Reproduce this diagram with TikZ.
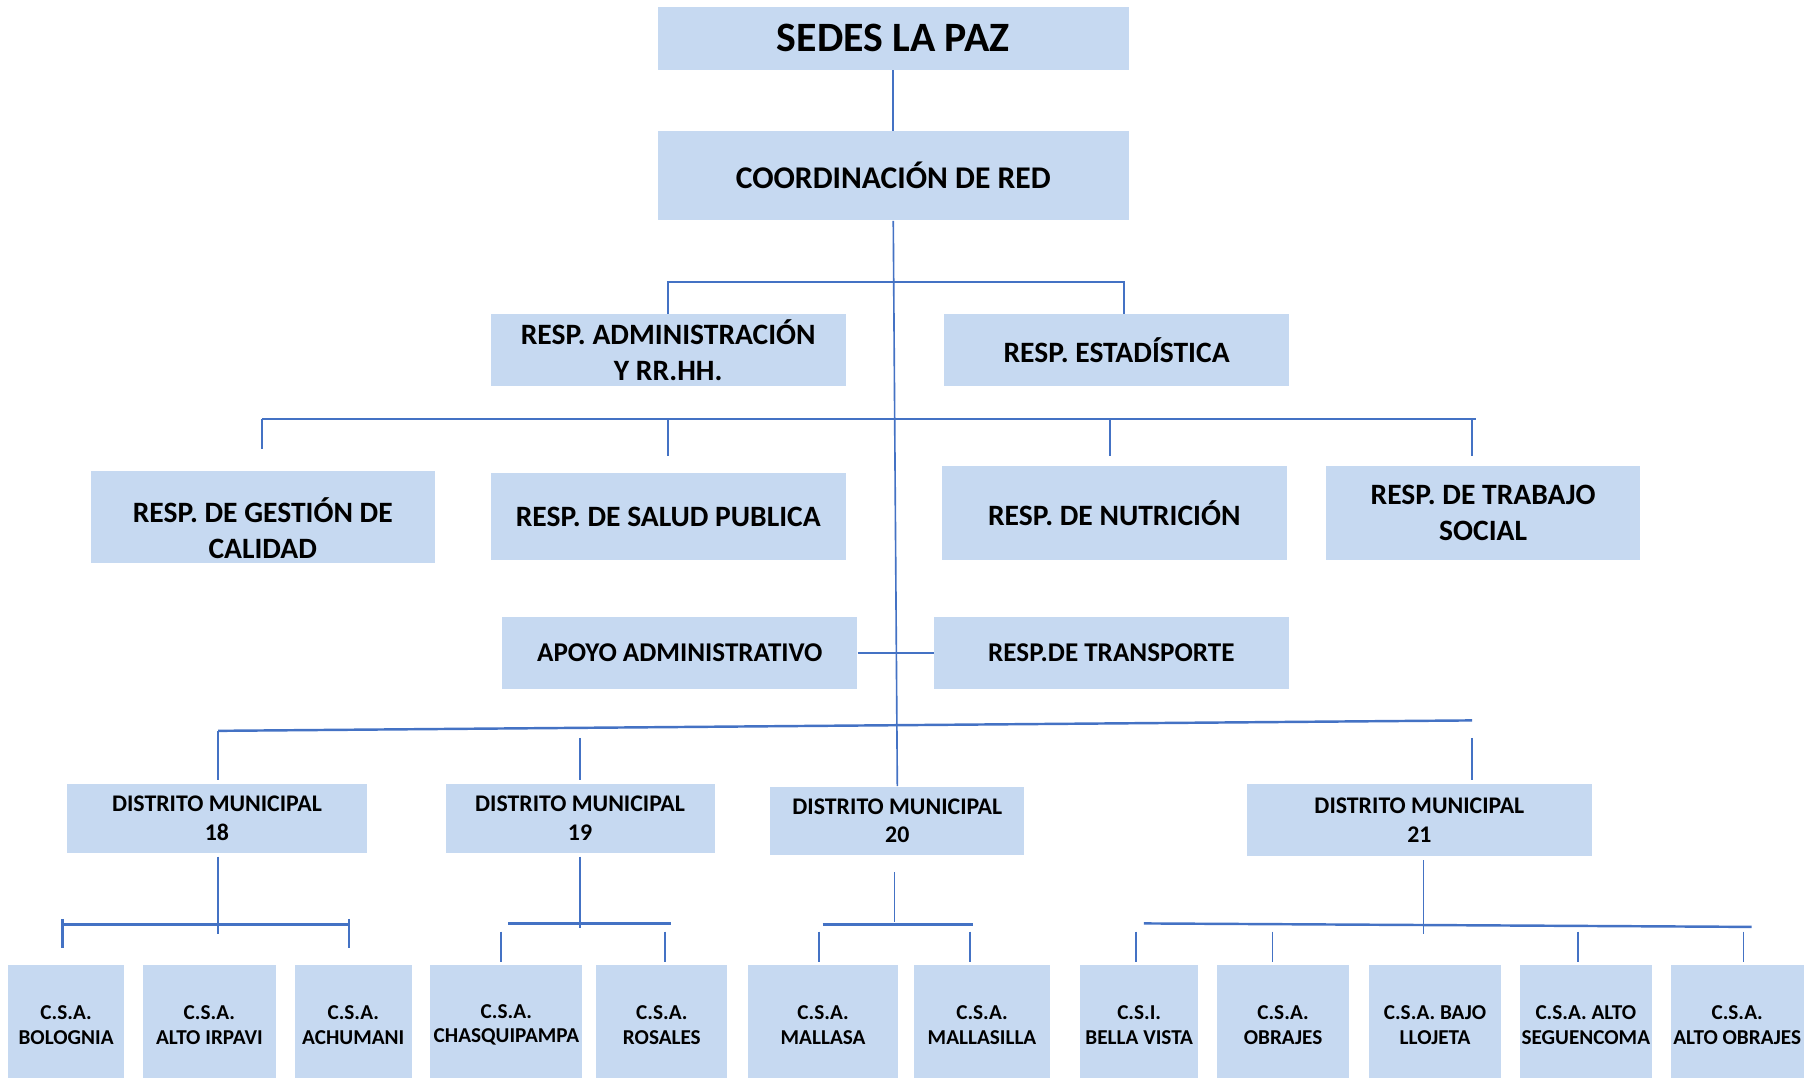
\documentclass[tikz,border=0pt]{standalone}
\usepackage{fontspec}
\setmainfont{Carlito}
\usepackage{tikz}
\definecolor{boxblue}{RGB}{198,217,241}
\definecolor{linkblue}{RGB}{68,114,196}

\begin{document}
\begin{tikzpicture}[x=0.02cm,y=-0.02cm]
\tikzstyle{box}=[fill=boxblue,align=center,inner sep=0pt];
\tikzstyle{toptxt}=[font=\fontsize{20.5}{24}\selectfont\bfseries];
\tikzstyle{coordtxt}=[font=\fontsize{15.5}{18.5}\selectfont\bfseries];
\tikzstyle{midtxt}=[font=\fontsize{14.5}{17.6}\selectfont\bfseries];
\tikzstyle{smalltxt}=[font=\fontsize{13.3}{16}\selectfont\bfseries];
\tikzstyle{dmtxt}=[font=\fontsize{11.7}{14.2}\selectfont\bfseries];
\tikzstyle{csa}=[box,font=\fontsize{10.4}{12.2}\selectfont\bfseries,minimum height=2.06cm];
\tikzstyle{conn}=[draw=linkblue,line width=0.8pt];
\tikzstyle{bus}=[draw=linkblue,line width=1.2pt];
\useasboundingbox (0,0) rectangle (1568,929);
% top levels
%   nodes
    \node[box,toptxt,minimum width=8.12cm,minimum height=1.08cm] (sedes) at (770,33) {SEDES LA PAZ};
    \node[box,coordtxt,minimum width=8.12cm,minimum height=1.54cm] (coord) at (770,151.5) {COORDINACIÓN DE RED};
    \node[box,midtxt,minimum width=6.12cm,minimum height=1.24cm] (admin) at (576,302) {RESP. ADMINISTRACIÓN\\Y RR.HH.};
    \node[box,midtxt,minimum width=5.94cm,minimum height=1.24cm] (estad) at (962.5,302) {RESP. ESTADÍSTICA};
    \node[box,minimum width=5.94cm,minimum height=1.58cm,
          label={[midtxt,align=center,yshift=-0.2cm]center:{RESP. DE GESTIÓN DE\\CALIDAD}}] (calidad) at (226.5,445.5) {};
    \node[box,midtxt,minimum width=6.12cm,minimum height=1.5cm] (salud) at (576,445.5) {RESP. DE SALUD PUBLICA};
    \node[box,midtxt,minimum width=5.94cm,minimum height=1.62cm] (nutri) at (960.5,442.5) {RESP. DE NUTRICIÓN};
    \node[box,midtxt,minimum width=5.42cm,minimum height=1.62cm] (social) at (1278.5,442.5) {RESP. DE TRABAJO\\SOCIAL};
    \node[box,smalltxt,minimum width=6.12cm,minimum height=1.24cm] (apoyo) at (586,563) {APOYO ADMINISTRATIVO};
    \node[box,smalltxt,minimum width=6.12cm,minimum height=1.24cm] (transp) at (958,563) {RESP.DE TRANSPORTE};
%   districts
    \node[box,dmtxt,minimum width=5.16cm,minimum height=1.18cm] (dm18) at (187,705.5) {DISTRITO MUNICIPAL\\18};
    \node[box,dmtxt,minimum width=4.64cm,minimum height=1.18cm] (dm19) at (500,705.5) {DISTRITO MUNICIPAL\\19};
    \node[box,dmtxt,minimum width=4.38cm,minimum height=1.18cm] (dm20) at (773.5,707.5) {DISTRITO MUNICIPAL\\20};
    \node[box,dmtxt,minimum width=5.94cm,minimum height=1.24cm] (dm21) at (1223.5,707) {DISTRITO MUNICIPAL\\21};
%   centres
    \node[csa,minimum width=2.00cm] (bolognia) at (57,883.5) {C.S.A.\\BOLOGNIA};
    \node[csa,minimum width=2.30cm] (irpavi) at (180.5,883.5) {C.S.A.\\ALTO IRPAVI};
    \node[csa,minimum width=2.02cm] (achumani) at (304.5,883.5) {C.S.A.\\ACHUMANI};
    \node[csa,minimum width=2.62cm] (chasqui) at (436.5,883.5) {C.S.A.\\CHASQUIPAMPA};
    \node[csa,minimum width=2.26cm] (rosales) at (570.5,883.5) {C.S.A.\\ROSALES};
    \node[csa,minimum width=2.58cm] (mallasa) at (709.5,883.5) {C.S.A.\\MALLASA};
    \node[csa,minimum width=2.34cm] (mallasilla) at (846.5,883.5) {C.S.A.\\MALLASILLA};
    \node[csa,minimum width=2.04cm] (bella) at (982,883.5) {C.S.I.\\BELLA VISTA};
    \node[csa,minimum width=2.28cm] (obrajes) at (1106,883.5) {C.S.A.\\OBRAJES};
    \node[csa,minimum width=2.28cm] (llojeta) at (1237,883.5) {C.S.A. BAJO\\LLOJETA};
    \node[csa,minimum width=2.28cm] (seguen) at (1367,883.5) {C.S.A. ALTO\\SEGUENCOMA};
    \node[csa,minimum width=2.30cm] (altoob) at (1497.5,883.5) {C.S.A.\\ALTO OBRAJES};
% edges
    \draw[conn] (sedes) -- (coord);
    \draw[conn] (coord.south) -- (dm20.north);
    % first bus
    \coordinate (b1l) at (576,243);
    \coordinate (b1r) at (969,243);
    \draw[bus] (admin.north) -- (b1l) -- (b1r) -- (b1r |- estad.north);
    % second bus
    \coordinate (b2l) at (226,361);
    \coordinate (b2r) at (1272,361);
    \coordinate (b2n) at (957,361);
    \coordinate (b2s) at (1269,361);
    \draw[bus] (b2l) -- (b2r);
    \draw[bus,shorten >=0.38cm] (b2l) -- (b2l |- calidad.north);
    \draw[bus,shorten >=0.3cm] (salud.north |- b2l) -- (salud.north);
    \draw[bus,shorten >=0.18cm] (b2n) -- (b2n |- nutri.north);
    \draw[bus,shorten >=0.18cm] (b2s) -- (b2s |- social.north);
    \draw[bus] (apoyo.east) -- (transp.west);
    % third bus
    \coordinate (b3l) at (188,630);
    \coordinate (b3r) at (1269,621);
    \coordinate (b3a) at (500,636);
    \coordinate (b3b) at (1269,636);
    \draw[bus] (b3l) -- (b3r);
    \draw[conn,shorten >=0.06cm] (b3l) -- (b3l |- dm18.north);
    \draw[conn,shorten >=0.06cm] (b3a) -- (dm19.north);
    \draw[conn,shorten >=0.06cm] (b3b) -- (b3b |- dm21.north);
    % district 18
    \coordinate (g18) at (188,805);
    \coordinate (g18l) at (54,797);
    \coordinate (g18r) at (301,797);
    \draw[conn,shorten <=0.06cm] (g18 |- dm18.south) -- (g18);
    \draw[bus] (g18l) -- (g18r);
    \draw[bus] (g18l) ++(0,-5) -- ++(0,25);
    \draw[bus] (g18r) ++(0,-5) -- ++(0,25);
    % district 19
    \coordinate (g19) at (500,800);
    \coordinate (g19l) at (438,796);
    \coordinate (g19r) at (578,796);
    \coordinate (g19a) at (432,803);
    \coordinate (g19b) at (573,803);
    \draw[conn,shorten <=0.06cm] (g19 |- dm19.south) -- (g19);
    \draw[bus] (g19l) -- (g19r);
    \draw[conn,shorten >=0.04cm] (g19a) -- (g19a |- chasqui.north);
    \draw[conn,shorten >=0.04cm] (g19b) -- (g19b |- rosales.north);
    % district 20
    \coordinate (g20) at (771,752);
    \coordinate (g20l) at (709,797);
    \coordinate (g20r) at (839,797);
    \coordinate (g20a) at (706,803);
    \coordinate (g20b) at (836,803);
    \draw[conn] (g20) -- ++(0,43);
    \draw[bus] (g20l) -- (g20r);
    \draw[conn,shorten >=0.04cm] (g20a) -- (g20a |- mallasa.north);
    \draw[conn,shorten >=0.04cm] (g20b) -- (g20b |- mallasilla.north);
    % district 21
    \coordinate (g21) at (1227,805);
    \coordinate (g21l) at (986,796);
    \coordinate (g21r) at (1510,799);
    \coordinate (g21a) at (979,803);
    \coordinate (g21b) at (1097,803);
    \coordinate (g21c) at (1360,803);
    \coordinate (g21d) at (1503,803);
    \draw[conn,shorten <=0.06cm] (g21 |- dm21.south) -- (g21);
    \draw[bus] (g21l) -- (g21r);
    \draw[conn,shorten >=0.04cm] (g21a) -- (g21a |- bella.north);
    \draw[conn,shorten >=0.04cm] (g21b) -- (g21b |- obrajes.north);
    \draw[conn,shorten >=0.04cm] (g21c) -- (g21c |- seguen.north);
    \draw[conn,shorten >=0.04cm] (g21d) -- (g21d |- altoob.north);
\end{tikzpicture}
\end{document}
